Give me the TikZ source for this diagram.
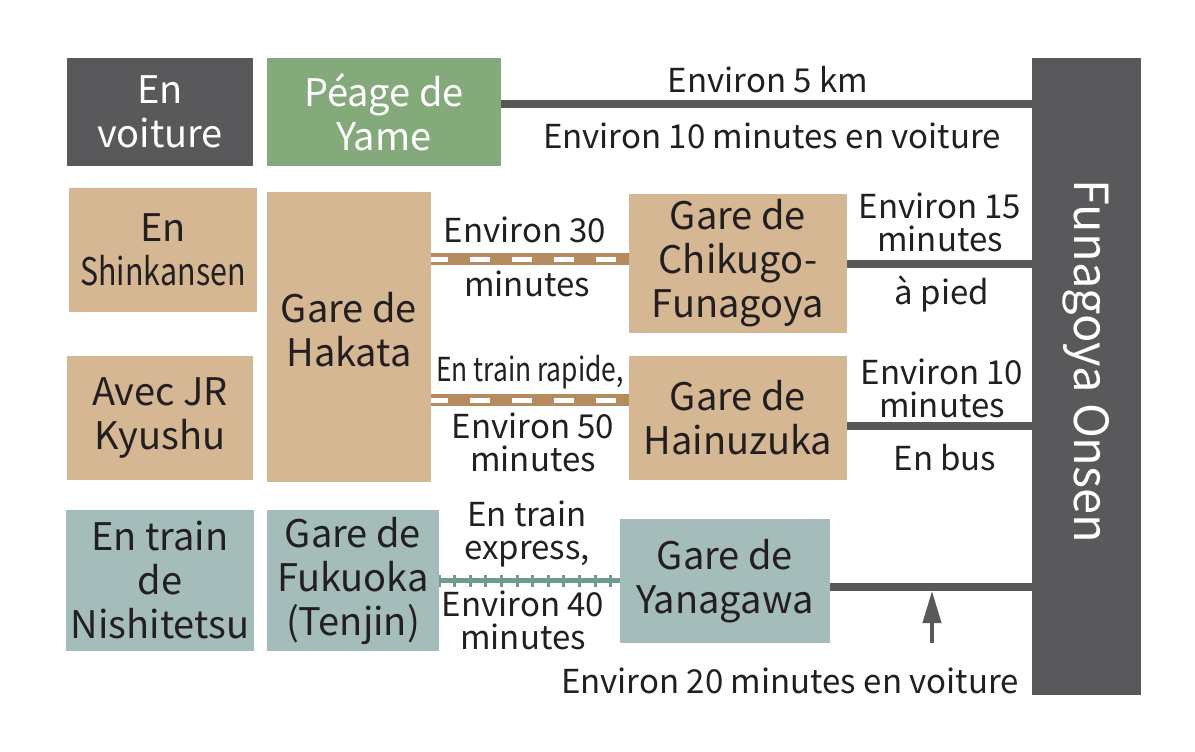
\documentclass[tikz,border=0pt]{standalone}
\usepackage{fontspec}
\setmainfont{Noto Sans CJK JP}
\usetikzlibrary{arrows.meta}
\definecolor{roadgray}{HTML}{59595B}
\definecolor{tollgreen}{HTML}{84A97A}
\definecolor{jrtan}{HTML}{D5B793}
\definecolor{railbrown}{HTML}{B48C5F}
\definecolor{nishiteal}{HTML}{A4BDBA}
\definecolor{railteal}{HTML}{6F9B8F}
\definecolor{ink}{HTML}{231F20}
\tikzset{
  place/.style={inner sep=0pt, align=center, text=ink, font=\fontsize{38}{44}\selectfont},
  carbox/.style={place, fill=roadgray, text=white},
  tollbox/.style={place, fill=tollgreen, text=white},
  jrbox/.style={place, fill=jrtan},
  nishibox/.style={place, fill=nishiteal},
  note/.style={inner sep=0pt, align=center, text=ink, font=\fontsize{33}{33}\selectfont},
  road/.style={draw=roadgray, line width=8pt},
  jrrail/.style={draw=railbrown, line width=12pt,
    postaction={draw=white, line width=5pt, dash pattern=on 20pt off 22pt, dash phase=3pt}},
  nishirail/.style={draw=railteal, line width=5pt,
    postaction={draw=railteal, line width=12pt, dash pattern=on 3pt off 12.6pt, dash phase=1.6pt}},
  uparrow/.style={draw=roadgray, line width=4pt, -{Triangle[width=18pt,length=32pt]}}
}
\newcommand{\narrow}[1]{\scalebox{0.8}[1]{#1}}
\begin{document}
\begin{tikzpicture}[x=1pt, y=-1pt]
\useasboundingbox[fill=white] (0,0) rectangle (1195,752);
\node[carbox, minimum width=186pt, minimum height=108pt] (voiture) at (160,112) {En\\voiture};
\node[tollbox, minimum width=234pt, minimum height=108pt] (yame) at (384,112) {Péage de\\Yame};
\node[carbox, minimum width=109pt, minimum height=637pt] (onsen) at (1086.5,376.5) {};
\node[rotate=-90, inner sep=0pt, text=white, font=\fontsize{47}{50}\selectfont] (onsenname) at ([yshift=15pt]onsen.center) {Funagoya Onsen};
\node[jrbox, minimum width=188pt, minimum height=124pt] (shinkansen) at (163,250) {En\\\narrow{Shinkansen}};
\node[jrbox, minimum width=186pt, minimum height=124pt] (kyushu) at (160,418) {Avec JR\\Kyushu};
\node[jrbox, minimum width=164pt, minimum height=290pt] (hakata) at (349,337) {Gare de\\Hakata\\[-28pt]};
\node[jrbox, minimum width=218pt, minimum height=139pt] (chikugo) at (738,263.5) {Gare de\\Chikugo-\\Funagoya};
\node[jrbox, minimum width=218pt, minimum height=124pt] (hainuzuka) at (738,418) {Gare de\\Hainuzuka};
\node[nishibox, minimum width=188pt, minimum height=141pt] (nishitetsu) at (160,580.5) {En train\\de\\Nishitetsu};
\node[nishibox, minimum width=172pt, minimum height=141pt] (fukuoka) at (353,580.5) {Gare de\\Fukuoka\\(Tenjin)};
\node[nishibox, minimum width=210pt, minimum height=124pt] (yanagawa) at (725,581) {Gare de\\Yanagawa};

\draw[road] ([yshift=8pt]yame.east) -- ([yshift=8pt]yame.east -| onsen.west);
\draw[road] (chikugo.east) -- (chikugo.east -| onsen.west);
\draw[road] ([yshift=-8pt]hainuzuka.east) -- ([yshift=-8pt]hainuzuka.east -| onsen.west);
\draw[road] ([yshift=-6pt]yanagawa.east) -- ([yshift=-6pt]yanagawa.east -| onsen.west);
\draw[jrrail] ([yshift=78pt]hakata.east) -- ([yshift=78pt]hakata.east -| chikugo.west);
\draw[jrrail] ([yshift=-63pt]hakata.east) -- ([yshift=-63pt]hakata.east -| hainuzuka.west);
\draw[nishirail] (fukuoka.east) -- (fukuoka.east -| yanagawa.west);
\coordinate (arrowfoot) at (932,643);
\coordinate (arrowtip) at (932,591);
\draw[uparrow] (arrowfoot) -- (arrowtip);

\node[note] (distance) at (768,80) {Environ 5 km};
\node[note] (drivetime) at (772,136) {Environ 10 minutes en voiture};
\node[note] (time30) at (525,230) {Environ 30};
\node[note] (min30) at (527,284) {minutes};
\node[note] (rapide) at (530,372) {\narrow{En train rapide,}};
\node[note] (time50) at (533,442) {Environ 50\\minutes};
\node[note] (walktime) at (940,222) {Environ 15\\minutes};
\node[note] (walk) at (942,294) {à pied};
\node[note] (bustime) at (942,388) {Environ 10\\minutes};
\node[note] (bus) at (945,458) {En bus};
\node[note] (express) at (527,534) {En train\\express,};
\node[note] (time40) at (523,620) {Environ 40\\minutes};
\node[note] (drive20) at (790,681) {Environ 20 minutes en voiture};
\end{tikzpicture}
\end{document}
